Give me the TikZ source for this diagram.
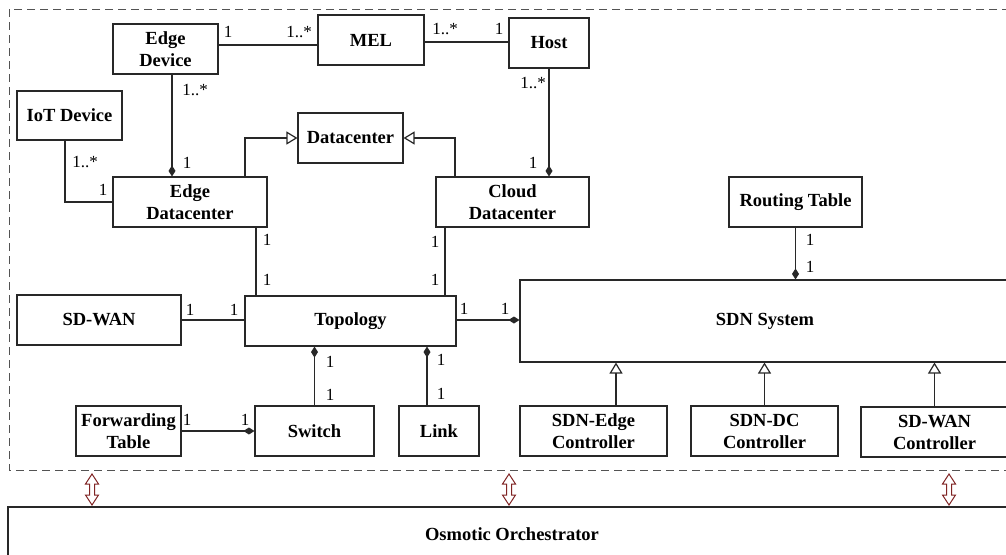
\documentclass[tikz,border=0pt]{standalone}
\usepackage{fontspec}
\setmainfont{Liberation Serif}
\usetikzlibrary{arrows.meta,calc}
\definecolor{linecol}{RGB}{40,40,40}
\definecolor{arrowred}{RGB}{128,36,36}
\begin{document}
\begin{tikzpicture}[x=1pt,y=-1pt,
  box/.style={draw=linecol, line width=1.1pt, fill=white, inner sep=0pt, align=center,
    font=\fontsize{18.5}{22}\selectfont\bfseries},
  lab/.style={inner sep=0pt, font=\fontsize{17}{17}\selectfont},
  conn/.style={draw=linecol, line width=1.2pt},
  comp/.style={conn, -{Diamond[length=11pt,width=7pt]}},
  gen/.style={conn, -{Triangle[open,length=11pt,width=13pt,fill=white]}},
  frame/.style={draw=linecol!80, line width=1pt, dash pattern=on 8pt off 5pt},
  updown/.pic={\draw[arrowred, line width=1pt, fill=white]
     (0,-15.5) -- (6.5,-5.5) -- (2.5,-5.5) -- (2.5,5.5) -- (6.5,5.5) -- (0,15.5)
     -- (-6.5,5.5) -- (-2.5,5.5) -- (-2.5,-5.5) -- (-6.5,-5.5) -- cycle;}
]
\useasboundingbox (0,0) rectangle (1006,554);
\clip (0,0) rectangle (1006,554);
\fill[white] (0,0) rectangle (1006,554);

% dashed frame
\draw[frame] (9,9) rectangle (1030,470);

% boxes
\node[box, minimum width=105, minimum height=50] (edev) at (165.5,49) {Edge\\Device};
\node[box, minimum width=106, minimum height=50] (mel) at (371,40) {MEL};
\node[box, minimum width=80, minimum height=50] (host) at (549,43) {Host};
\node[box, minimum width=105, minimum height=49] (iot) at (69.5,115.5) {IoT Device};
\node[box, minimum width=105, minimum height=50] (dc) at (350.5,138) {Datacenter};
\node[box, minimum width=154, minimum height=50] (edc) at (190,202) {Edge\\Datacenter};
\node[box, minimum width=153, minimum height=50] (cdc) at (512.5,202) {Cloud\\Datacenter};
\node[box, minimum width=133, minimum height=50] (rt) at (795.5,202) {Routing Table};
\node[box, minimum width=164, minimum height=50] (sdwan) at (99,320) {SD-WAN};
\node[box, minimum width=211, minimum height=50] (topo) at (350.5,321) {Topology};
\node[box, minimum width=490, minimum height=82] (sdn) at (765,321) {SDN System};
\node[box, minimum width=105, minimum height=50] (ft) at (128.5,431) {Forwarding\\Table};
\node[box, minimum width=119, minimum height=50] (sw) at (314.5,431) {Switch};
\node[box, minimum width=80, minimum height=50] (link) at (439,431) {Link};
\node[box, minimum width=147, minimum height=50] (sdne) at (593.5,431) {SDN-Edge\\Controller};
\node[box, minimum width=147, minimum height=50] (sdndc) at (764.5,431) {SDN-DC\\Controller};
\node[box, minimum width=147, minimum height=50] (sdwc) at (934.5,432) {SD-WAN\\Controller};
\node[box, minimum width=1008, minimum height=54] (orch) at (512,534) {Osmotic Orchestrator};

% helper coordinates
\coordinate (a1) at ([yshift=4pt]edev.east);
\coordinate (a2) at ([yshift=-2pt]mel.east);
\coordinate (b1) at ([xshift=6.5pt]edev.south);
\coordinate (c1) at ([xshift=-4.5pt]iot.south);
\coordinate (d1) at ([xshift=55pt]edc.north);
\coordinate (d2) at ([xshift=-57.5pt]cdc.north);
\coordinate (e1) at ([xshift=66pt]edc.south);
\coordinate (e2) at ([xshift=-67.5pt]cdc.south);
\coordinate (f1) at ([xshift=-12pt]link.north);
\coordinate (g1) at ([xshift=22.5pt]sdne.north);

% connectors
\draw[conn] (a1) -- (a1 -| mel.west);
\draw[conn] (a2) -- (a2 -| host.west);
\draw[comp] (b1) -- (b1 |- edc.north);
\draw[conn] (c1) |- (edc.west);
\draw[gen] (d1) |- (dc.west);
\draw[gen] (d2) |- (dc.east);
\draw[comp] (host.south) -- (host.south |- cdc.north);
\draw[conn] (e1) -- (e1 |- topo.north);
\draw[conn] (e2) -- (e2 |- topo.north);
\draw[comp] (rt.south) -- (rt.south |- sdn.north);
\draw[conn] (sdwan.east) -- (sdwan.east -| topo.west);
\draw[comp] ([yshift=1pt]topo.east) -- ([yshift=1pt]topo.east -| sdn.west);
\draw[comp] (sw.north) -- (sw.north |- topo.south);
\draw[comp] (f1) -- (f1 |- topo.south);
\draw[comp] (ft.east) -- (ft.east -| sw.west);
\draw[gen] (g1) -- (g1 |- sdn.south);
\draw[gen] (sdndc.north) -- (sdndc.north |- sdn.south);
\draw[gen] (sdwc.north) -- (sdwc.north |- sdn.south);

% multiplicity labels
\node[lab] (l1) at (228,32) {1};
\node[lab] (l2) at (299,32) {1..*};
\node[lab] (l3) at (445,29) {1..*};
\node[lab] (l4) at (499,29) {1};
\node[lab] (l5) at (195,90) {1..*};
\node[lab] (l6) at (187,163) {1};
\node[lab] (l7) at (85,162) {1..*};
\node[lab] (l8) at (103,190) {1};
\node[lab] (l9) at (533,83) {1..*};
\node[lab] (l10) at (533,163) {1};
\node[lab] (l11) at (267,240) {1};
\node[lab] (l12) at (267,280) {1};
\node[lab] (l13) at (435,242) {1};
\node[lab] (l14) at (435,280) {1};
\node[lab] (l15) at (810,240) {1};
\node[lab] (l16) at (810,267) {1};
\node[lab] (l17) at (190,310) {1};
\node[lab] (l18) at (234,310) {1};
\node[lab] (l19) at (464,309) {1};
\node[lab] (l20) at (505,309) {1};
\node[lab] (l21) at (330,362) {1};
\node[lab] (l22) at (330,395) {1};
\node[lab] (l23) at (441,360) {1};
\node[lab] (l24) at (441,394) {1};
\node[lab] (l25) at (187,420) {1};
\node[lab] (l26) at (245,420) {1};

% double arrows to orchestrator
\pic at (92,489.5) {updown};
\pic at (509,489.5) {updown};
\pic at (949,489.5) {updown};
\end{tikzpicture}
\end{document}
